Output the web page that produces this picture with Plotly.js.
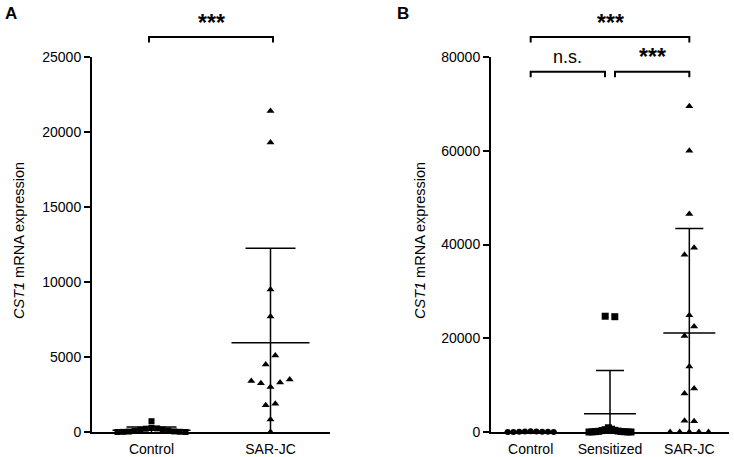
<!DOCTYPE html>
<html>
<head>
<meta charset="utf-8">
<script src="https://cdn.plot.ly/plotly-3.0.1.min.js"></script>
<style>html,body{margin:0;padding:0;background:#fff;}#chart{width:734px;height:457px;}</style>
</head>
<body>
<div id="chart"></div>
<script>
// ---------- data ----------
const catsA = ["Control", "SAR-JC"];
const controlA = [0, 10, 30, 80, 150, 220, 280, 240, 160, 90, 40, 15, 0, 720];
const sarjcA = [21400, 19300, 9500, 7700, 4500, 5100, 3400, 3250, 3000, 3300, 3500, 1780, 1890, 840, 0];
const meanA = [120, 5950];
const sdA = [220, 6300];
const yTicksA = [0, 5000, 10000, 15000, 20000, 25000];

const catsB = ["Control", "Sensitized", "SAR-JC"];
const controlB = [0, 20, 50, 100, 150, 100, 60, 30, 0];
const sensitizedB = [24700, 24600, 0, 30, 80, 150, 300, 500, 900, 600, 350, 200, 100, 50, 20, 0];
const sarjcB = [69500, 60000, 46500, 37800, 39300, 24900, 20500, 22500, 14000, 8200, 9300, 2400, 2300, 0, 0, 0, 0, 0];
const meanB = [50, 3900, 21100];
const sdB = [80, 9200, 22300];
const yTicksB = [0, 20000, 40000, 60000, 80000];

const sigA = [{from: 0, to: 1, level: 0, text: "***"}];
const sigB = [
  {from: 0, to: 2, level: 0, text: "***"},
  {from: 0, to: 1, level: 1, text: "n.s."},
  {from: 1, to: 2, level: 1, text: "***"}
];
const yTitle = "<i>CST1</i> mRNA expression";

// ---------- geometry / style ----------
const W = 734, H = 457;
const yDom = [25 / H, 400 / H];
const plotH = (yDom[1] - yDom[0]) * H;
const domA = [92 / W, 330 / W];
const domB = [491 / W, 729 / W];
const FONT = "Liberation Sans, Arial, sans-serif";

function pxX(dom, n) { return (dom[1] - dom[0]) * W / n; } // px per category unit

// simple row-binned beeswarm
function swarm(values, center, pyUnit, pxUnit, step, maxW, thresh) {
  const idx = values.map((v, i) => i).sort((a, b) => values[a] - values[b]);
  const rows = [];
  let cur = null;
  idx.forEach(i => {
    if (!cur || (values[i] - values[cur[0]]) * pyUnit > thresh) { cur = [i]; rows.push(cur); }
    else cur.push(i);
  });
  const xs = new Array(values.length);
  rows.forEach(r => {
    r.sort((a, b) => a - b);
    const n = r.length;
    const s = n > 1 ? Math.min(step, maxW / (n - 1)) : 0;
    r.forEach((i, k) => { xs[i] = center + (k - (n - 1) / 2) * s / pxUnit; });
  });
  return xs;
}

const traces = [];
function group(vals, ci, xa, ya, yMax, dom, nCats, symbol, size, maxW) {
  const pyUnit = plotH / yMax;
  const pxUnit = pxX(dom, nCats);
  const xs = swarm(vals, ci + 1, pyUnit, pxUnit, 9.6, maxW, 9.5);
  traces.push({
    x: xs, y: vals, xaxis: xa, yaxis: ya, type: "scatter", mode: "markers",
    cliponaxis: false, hoverinfo: "none",
    marker: {symbol: symbol, size: size, color: "#000", line: {width: 0}}
  });
}
function meanSd(means, sds, xa, ya, dom, nCats, halfLine, cap) {
  const pxUnit = pxX(dom, nCats);
  means.forEach((m, i) => {
    traces.push({
      x: [i + 1 - halfLine / pxUnit, i + 1 + halfLine / pxUnit], y: [m, m],
      xaxis: xa, yaxis: ya, type: "scatter", mode: "lines", hoverinfo: "none",
      line: {color: "#000", width: 1.5}
    });
    traces.push({
      x: [i + 1], y: [m], xaxis: xa, yaxis: ya, type: "scatter", mode: "markers",
      cliponaxis: true, hoverinfo: "none",
      marker: {size: 1, opacity: 0},
      error_y: {type: "data", array: [sds[i]], visible: true, width: cap, thickness: 1.5, color: "#000"}
    });
  });
}

// Panel A
group(controlA, 0, "x", "y", 25000, domA, 2, "square", 6, 68);
group(sarjcA, 1, "x", "y", 25000, domA, 2, "triangle-up", 7, 68);
meanSd(meanA, sdA, "x", "y", domA, 2, 39, 25);
// Panel B
group(controlB, 0, "x2", "y2", 80000, domB, 3, "circle", 6, 46);
group(sensitizedB, 1, "x2", "y2", 80000, domB, 3, "square", 7, 42);
group(sarjcB, 2, "x2", "y2", 80000, domB, 3, "triangle-up", 7, 46);
meanSd(meanB, sdB, "x2", "y2", domB, 3, 26, 14);

// brackets
const shapes = [], annotations = [];
const levelPx = [37, 71.7];
const drop = 5.5 / H;
function brackets(list, xref, dom, nCats, insetIn) {
  const pxUnit = pxX(dom, nCats);
  list.forEach(b => {
    const inset = b.level === 0 ? insetIn[0] : insetIn[1];
    const x1 = b.from + 1 + (b.from > 0 ? inset[1] : inset[0]) / pxUnit;
    const x2 = b.to + 1 - (b.to < nCats - 1 ? inset[1] : inset[0]) / pxUnit;
    const y = (H - levelPx[b.level]) / H;
    shapes.push({type: "path", xref: xref, yref: "paper",
      path: `M${x1},${y - drop} L${x1},${y} L${x2},${y} L${x2},${y - drop}`,
      line: {color: "#000", width: 2}});
    const isStar = b.text.indexOf("*") >= 0;
    const textPx = levelPx[b.level] - (isStar ? 14.5 : 14.7);
    annotations.push({xref: xref, yref: "paper", x: (x1 + x2) / 2, y: (H - textPx) / H,
      text: isStar ? "<b>" + b.text + "</b>" : b.text, showarrow: false, yanchor: "middle", xanchor: "center",
      font: {family: FONT, size: isStar ? 23 : 18, color: "#000"}});
  });
}
brackets(sigA, "x", domA, 2, [[-2.5, 0], [0, 0]]);
brackets(sigB, "x2", domB, 3, [[0, 0], [0, 5]]);

annotations.push(
  {xref: "paper", yref: "paper", x: 11 / W, y: (H - 13) / H, text: "<b>A</b>", showarrow: false,
   xanchor: "center", yanchor: "middle", font: {family: FONT, size: 17, color: "#000"}},
  {xref: "paper", yref: "paper", x: 403 / W, y: (H - 13) / H, text: "<b>B</b>", showarrow: false,
   xanchor: "center", yanchor: "middle", font: {family: FONT, size: 17, color: "#000"}},
  {xref: "paper", yref: "paper", x: 19 / W, y: (H - 241) / H, text: yTitle, textangle: -90, showarrow: false,
   xanchor: "center", yanchor: "middle", font: {family: FONT, size: 14.5, color: "#000"}},
  {xref: "paper", yref: "paper", x: 420 / W, y: (H - 241) / H, text: yTitle, textangle: -90, showarrow: false,
   xanchor: "center", yanchor: "middle", font: {family: FONT, size: 14.5, color: "#000"}}
);

function xAxis(dom, cats, anchor) {
  return {domain: dom, anchor: anchor, range: [0.5, cats.length + 0.5], tickvals: cats.map((c, i) => i + 1),
    ticktext: cats, ticks: "", ticklabelstandoff: 3, showline: true, linewidth: 2, linecolor: "#000", showgrid: false, zeroline: false,
    tickfont: {family: FONT, size: 14, color: "#000"}, fixedrange: true};
}
function yAxis(max, ticks, anchor) {
  return {domain: yDom, anchor: anchor, range: [0, max], tickvals: ticks, tickformat: "d",
    ticks: "outside", ticklen: 6, tickwidth: 2, tickcolor: "#000", showline: true, linewidth: 2, linecolor: "#000",
    showgrid: false, zeroline: false, tickfont: {family: FONT, size: 14, color: "#000"}, fixedrange: true};
}

const layout = {
  width: W, height: H, margin: {l: 0, r: 0, t: 0, b: 0}, showlegend: false,
  paper_bgcolor: "#fff", plot_bgcolor: "#fff", font: {family: FONT, color: "#000"},
  xaxis: xAxis(domA, catsA, "y"), yaxis: yAxis(25000, yTicksA, "x"),
  xaxis2: xAxis(domB, catsB, "y2"), yaxis2: yAxis(80000, yTicksB, "x2"),
  shapes: shapes, annotations: annotations
};
Plotly.newPlot("chart", traces, layout, {displayModeBar: false, staticPlot: true});
</script>
</body>
</html>
